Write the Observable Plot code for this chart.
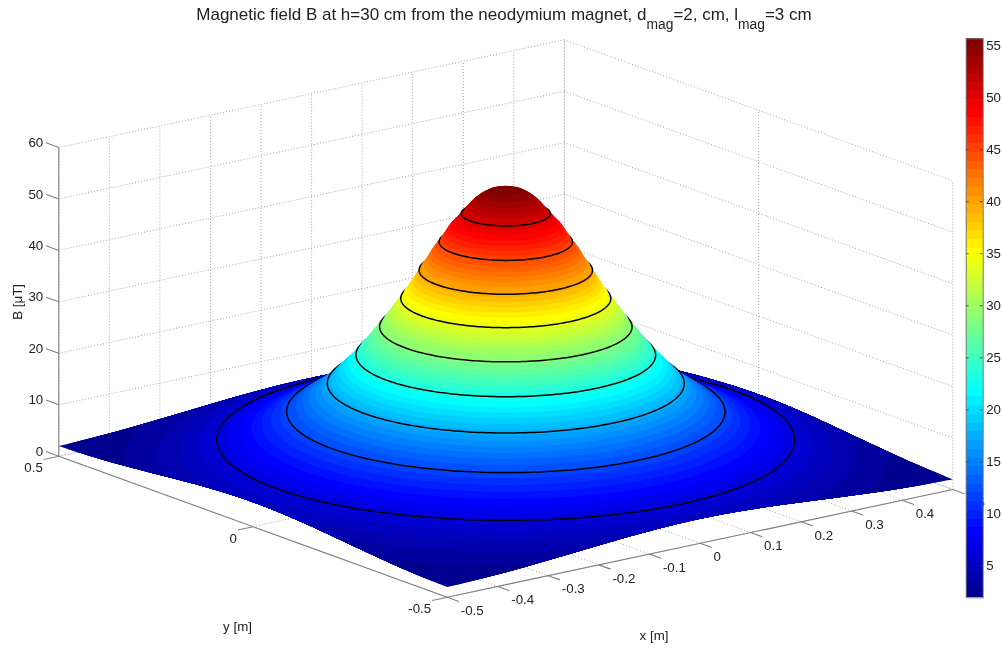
<!DOCTYPE html>
<html>
<head>
<meta charset="utf-8">
<script src="https://cdn.jsdelivr.net/npm/d3@7"></script>
<script src="https://cdn.jsdelivr.net/npm/@observablehq/plot@0.6"></script>
<style>
  html, body { margin: 0; padding: 0; background: #fff; }
  #chart { position: relative; width: 1003px; height: 648px; overflow: hidden; font-family: "Liberation Sans", Arial, sans-serif; }
  #chart svg { position: absolute; left: 0; top: 0; filter: blur(0.35px); }
  #title { position: absolute; left: 0; width: 1008px; top: 6px; text-align: center; font-size: 17px; line-height: 18px; color: #222; white-space: nowrap; filter: blur(0.3px); }
  #title sub { font-size: 13.8px; line-height: 0; vertical-align: -8.7px; }
</style>
</head>
<body>
<div id="chart"><div id="title">Magnetic field B at h=30 cm from the neodymium magnet, d<sub>mag</sub>=2, cm, l<sub>mag</sub>=3 cm</div></div>
<script>
// Field height (µT) and the radius (m) at which the surface reaches it
const surfaceLevels = [1.96,2.2,2.4,2.6,2.8,3.0,3.2,3.4,3.64,3.8,4.0,4.2,4.48,4.6,4.8,5.32,6.15,6.99,7.83,8.67,9.51,10.35,11.19,12.03,12.87,13.71,14.54,15.38,16.22,17.06,17.90,18.74,19.58,20.42,21.26,22.09,22.93,23.77,24.61,25.45,26.29,27.13,27.97,28.81,29.65,30.48,31.32,32.16,33.00,33.84,34.68,35.52,36.36,37.20,38.04,38.87,39.71,40.55,41.39,42.23,43.07,43.91,44.75,45.59,46.43,47.26,48.10,48.94,49.78,50.62,51.46,52.30,53.14,53.98,54.82];
const surfaceRadii  = [.707,.659,.632,.613,.598,.584,.571,.559,.547,.539,.530,.522,.510,.506,.499,.482,.459,.437,.417,.399,.383,.368,.354,.342,.330,.319,.309,.299,.290,.283,.275,.268,.261,.254,.247,.241,.235,.229,.223,.217,.212,.206,.201,.195,.190,.185,.180,.175,.170,.165,.160,.155,.151,.146,.142,.137,.134,.129,.124,.120,.116,.111,.105,.101,.096,.092,.087,.080,.074,.068,.062,.056,.049,.040,.028];
// Black contour lines
const contourLevels = [6.4,11.9,17.4,22.9,28.4,33.9,39.4,44.9,50.4];
const contourRadii  = [.4533,.3437,.280,.235,.198,.1647,.136,.1046,.070];
// Axis ticks
const xTicks = [-0.5,-0.4,-0.3,-0.2,-0.1,0,0.1,0.2,0.3,0.4,0.5];
const yTicks = [-0.5,0,0.5];
const zTicks = [0,10,20,30,40,50,60];
const colorbarTicks = [5,10,15,20,25,30,35,40,45,50,55];
const colorMin = 1.96, colorMax = 55.64, colorSteps = 64;
const lo = -0.5, hi = 0.5, zTop = 60;

// Orthographic view of the MATLAB axes box
const view = {cx: 505.3, cy: 472.35, xx: 505.6, xy: -107.7, yx: -388.4, yy: -141, zy: -5.145};
const px = (x, y) => view.cx + view.xx * x + view.yx * y;
const py = (x, y, z) => view.cy + view.xy * x + view.yy * y + view.zy * z;

// jet colormap
const clamp01 = v => Math.max(0, Math.min(1, v));
const jet = d3.range(colorSteps).map(i => {
  const t = (i + 1) / colorSteps;
  const c = (a, b) => Math.round(255 * clamp01(Math.min(a, b)));
  return d3.rgb(c(4 * t - 1.5, -4 * t + 4.5), c(4 * t - 0.5, -4 * t + 3.5), c(4 * t + 0.5, -4 * t + 2.5)).formatHex();
});
const colorStep = (colorMax - colorMin) / colorSteps;
const thresholds = d3.range(1, colorSteps).map(i => colorMin + i * colorStep);
const colorScale = {type: "threshold", domain: thresholds, range: jet};

// Rings of the surface, stacked from low to high so the hill hides what is behind it.
// Each colour band is drawn in a few thin steps so the outline of the hill stays smooth.
// Where a ring is cut by the square edge, the cut follows the surface height there.
// A contour is stacked just above the nearest band so that band does not cover half its line.
const heightAt = d3.scaleLinear().domain(surfaceRadii).range(surfaceLevels).clamp(true);
const clampSq = v => Math.max(lo, Math.min(hi, v));
const contourLift = 0.45, bandSteps = 4;
const bandRings = surfaceLevels.flatMap((z, i) => {
  const nz = i + 1 < surfaceLevels.length ? surfaceLevels[i + 1] : colorMax;
  const nr = i + 1 < surfaceRadii.length ? surfaceRadii[i + 1] : 0;
  return d3.range(bandSteps).map(j => {
    const f = j / bandSteps, h = z + (nz - z) * f;
    return {z: h, r: surfaceRadii[i] + (nr - surfaceRadii[i]) * f, contour: false, key: h, value: z};
  });
});
const rings = [
  ...bandRings,
  ...contourLevels.map((z, i) => ({z, r: contourRadii[i], contour: true, key: z + contourLift, value: z + contourLift}))
].sort((a, b) => a.key - b.key);
const ringPath = ({z, r}) => d3.range(0, 360, 1.5).map(a => {
  const t = a * Math.PI / 180;
  const x0 = r * Math.cos(t), y0 = r * Math.sin(t);
  const x = clampSq(x0), y = clampSq(y0);
  const h = (x === x0 && y === y0) ? z : Math.max(z, heightAt(Math.hypot(x, y)));
  return {X: px(x, y), Y: py(x, y, h)};
});
const surfaceMarks = rings.map(ring => Plot.line(ringPath(ring), {
  x: "X", y: "Y", fill: () => ring.value + 0.01, z: null, curve: "linear-closed",
  stroke: ring.contour ? "#000" : "none", strokeWidth: 1.5
}));

const seg = (a, b) => ({x1: px(a[0], a[1]), y1: py(a[0], a[1], a[2]), x2: px(b[0], b[1]), y2: py(b[0], b[1], b[2])});
const link = (rows, o) => Plot.link(rows, {x1: "x1", y1: "y1", x2: "x2", y2: "y2", ...o});
const grid = {stroke: "#a5a5a5", strokeWidth: 1, strokeDasharray: "1,2"};
const axisLine = {stroke: "#808080", strokeWidth: 1.1};
const tickOut = 0.03;
const font = {fontSize: 13.3, fill: "#222", fontFamily: "Liberation Sans, Arial, sans-serif"};

const gridRows = [
  ...xTicks.map(x => seg([x, lo, 0], [x, hi, 0])),
  ...yTicks.map(y => seg([lo, y, 0], [hi, y, 0])),
  ...xTicks.map(x => seg([x, hi, 0], [x, hi, zTop])),
  ...yTicks.map(y => seg([hi, y, 0], [hi, y, zTop])),
  ...zTicks.map(z => seg([lo, hi, z], [hi, hi, z])),
  ...zTicks.map(z => seg([hi, hi, z], [hi, lo, z]))
];

const main = Plot.plot({
  width: 1003, height: 648, margin: 0,
  style: {background: "transparent"},
  x: {domain: [0, 1003], range: [0, 1003], axis: null},
  y: {domain: [0, 648], range: [0, 648], axis: null},
  color: colorScale,
  marks: [
    link(gridRows, grid),
    ...surfaceMarks,
    link([seg([lo, lo, 0], [hi, lo, 0]), seg([lo, lo, 0], [lo, hi, 0]), seg([lo, hi, 0], [lo, hi, zTop])], axisLine),
    link(xTicks.map(x => seg([x, lo, 0], [x, lo - tickOut, 0])), axisLine),
    link(yTicks.map(y => seg([lo, y, 0], [lo - tickOut, y, 0])), axisLine),
    link(zTicks.map(z => seg([lo, hi, z], [lo, hi + 0.033, z])), axisLine),
    Plot.text(xTicks, {x: d => px(d, lo), y: d => py(d, lo, 0), text: d => String(d), dx: 13.5, dy: 13.5, textAnchor: "start", ...font}),
    Plot.text(yTicks, {x: d => px(lo, d), y: d => py(lo, d, 0), text: d => String(d), dx: -16, dy: 12, textAnchor: "end", ...font}),
    Plot.text(zTicks, {x: () => px(lo, hi), y: d => py(lo, hi, d), text: d => String(d), dx: -15.6, dy: -4.7, textAnchor: "end", ...font}),
    Plot.text(["y [m]"], {x: () => px(lo, 0), y: () => py(lo, 0, 0), dx: -15.5, dy: 100.5, text: d => d, ...font}),
    Plot.text(["x [m]"], {x: () => px(0, lo), y: () => py(0, lo, 0), dx: -46, dy: 92, text: d => d, ...font}),
    Plot.text(["B [μT]"], {x: () => px(lo, hi), y: () => py(lo, hi, 30), dx: -41, dy: 0, rotate: -90, text: d => d, ...font})
  ]
});

const bands = jet.map((c, i) => ({a: colorMin + i * colorStep, b: colorMin + (i + 1) * colorStep}));
const bar = Plot.plot({
  width: 1003, height: 648,
  marginLeft: 965.7, marginRight: 20.3, marginTop: 38.3, marginBottom: 50.7,
  style: {background: "transparent"},
  x: {domain: [0, 1], axis: null},
  y: {domain: [colorMin, colorMax], axis: null},
  color: colorScale,
  marks: [
    Plot.rect(bands, {x1: 0, x2: 1, y1: "a", y2: "b", fill: d => (d.a + d.b) / 2, shapeRendering: "crispEdges"}),
    Plot.ruleY(colorbarTicks, {x1: 0, x2: 0.17, stroke: "#333", strokeWidth: 0.8}),
    Plot.ruleY(colorbarTicks, {x1: 0.83, x2: 1, stroke: "#333", strokeWidth: 0.8}),
    Plot.frame({stroke: "#777", strokeWidth: 1}),
    Plot.axisY(colorbarTicks, {anchor: "right", tickSize: 0, tickPadding: 3, label: null, tickFormat: d => String(d), ...font})
  ]
});

const chart = document.getElementById("chart");
chart.prepend(bar);
chart.prepend(main);
</script>
</body>
</html>
